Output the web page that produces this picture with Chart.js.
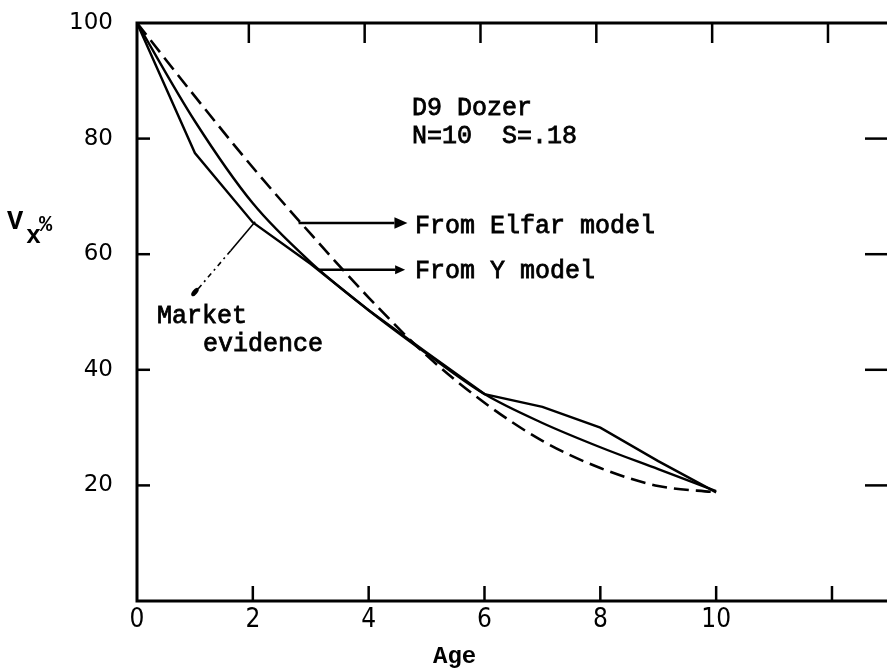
<!DOCTYPE html>
<html>
<head>
<meta charset="utf-8">
<script src="https://cdn.jsdelivr.net/npm/chart.js@4/dist/chart.umd.min.js"></script>
<style>
  html, body { margin: 0; padding: 0; background: #fff; overflow: hidden; }
  #c { display: block; }
</style>
</head>
<body>
<canvas id="c" width="887" height="671"></canvas>
<script>
// ---- data ----
const ages = [0, 1, 2, 3, 4, 5, 6, 7, 8, 9, 10];
const marketEvidence = [100, 77.5, 65.5, 58.3, 50.3, 43.0, 35.8, 33.6, 30.0, 24.2, 18.8];
const yModel        = [100, 83.0, 68.8, 58.6, 50.3, 42.8, 35.8, 30.8, 26.6, 22.8, 19.0];
const elfarModel    = [100, 87.3, 75.0, 63.5, 52.5, 42.5, 34.3, 27.7, 23.0, 19.9, 18.8];
const xTickValues = [0, 2, 4, 6, 8, 10, 12];
const xTickLabels = ['0', '2', '4', '6', '8', '10', ''];
const yTickValues = [20, 40, 60, 80, 100];
const yTickLabels = ['20', '40', '60', '80', '100'];
const seriesNames = ['Market evidence', 'From Y model', 'From Elfar model'];

const toPts = arr => ages.map((a, i) => ({ x: a, y: arr[i] }));

const MONO = "'Liberation Mono', 'DejaVu Sans Mono', monospace";

const decor = {
  id: 'decor',
  afterDraw(chart) {
    const { ctx, chartArea: a, scales: { x, y } } = chart;
    ctx.save();
    ctx.strokeStyle = '#000';
    ctx.fillStyle = '#000';
    const line = (x1, y1, x2, y2) => { ctx.beginPath(); ctx.moveTo(x1, y1); ctx.lineTo(x2, y2); ctx.stroke(); };

    // frame
    ctx.lineWidth = 3;
    ctx.beginPath();
    ctx.moveTo(a.left, a.bottom); ctx.lineTo(a.left, a.top); ctx.lineTo(a.right, a.top);
    ctx.moveTo(a.left - 1.5, a.bottom); ctx.lineTo(a.right, a.bottom);
    ctx.stroke();

    // inward ticks
    ctx.lineWidth = 2.5;
    xTickValues.forEach(v => {
      if (v === 0) return;
      const px = x.getPixelForValue(v);
      line(px, a.bottom, px, a.bottom - 15);
      line(px - 4, a.top, px - 4, a.top + 20);
    });
    yTickValues.forEach(v => {
      if (v === 100) return;
      const py = y.getPixelForValue(v);
      line(a.left, py, a.left + 13, py);
      line(a.right - 22, py, a.right, py);
    });

    // annotation text (typewriter look: fill + light stroke)
    ctx.font = `25px ${MONO}`;
    ctx.textBaseline = 'alphabetic';
    ctx.textAlign = 'left';
    ctx.lineWidth = 0.8;
    const tw = (t, px, py) => { ctx.fillText(t, px, py); ctx.strokeText(t, px, py); };
    tw('D9 Dozer', 412, 115);
    tw('N=10  S=.18', 412, 143);
    tw(seriesNames[2], 415, 233);
    tw(seriesNames[1], 415, 278);
    tw('Market', 157, 323);
    tw('evidence', 203, 351);

    // arrows from curves to labels
    const arrow = (xv, yv, xEnd, head) => {
      const sx = x.getPixelForValue(xv), sy = y.getPixelForValue(yv);
      const ex = x.getPixelForValue(xEnd);
      ctx.lineWidth = 2.5;
      line(sx, sy, ex - head, sy);
      ctx.beginPath();
      ctx.moveTo(ex, sy); ctx.lineTo(ex - head, sy - head * 0.45); ctx.lineTo(ex - head, sy + head * 0.45);
      ctx.closePath(); ctx.fill();
    };
    arrow(2.79, 65.4, 4.67, 13);
    arrow(3.13, 57.3, 4.63, 10);

    // market evidence pointer (solid then dash-dot)
    const mx = x.getPixelForValue(2.04), my = y.getPixelForValue(65.6);
    const tx = 194, ty = 294;
    ctx.lineWidth = 1.6;
    line(mx, my, mx + (tx - mx) * 0.4, my + (ty - my) * 0.4);
    ctx.setLineDash([5, 4, 2, 4]);
    line(mx + (tx - mx) * 0.4, my + (ty - my) * 0.4, tx + 4, ty - 5);
    ctx.setLineDash([]);
    ctx.beginPath();
    ctx.ellipse(tx + 1, ty - 2, 5, 2.5, -Math.PI / 3.5, 0, Math.PI * 2);
    ctx.fill();

    // axis titles
    ctx.font = `bold 27px ${MONO}`;
    ctx.fillText('V', 7, 229);
    ctx.font = `bold 25px ${MONO}`;
    ctx.fillText('x', 26, 243);
    ctx.font = `bold 22px ${MONO}`;
    ctx.fillText('%', 39, 231);
    ctx.font = `bold 24px ${MONO}`;
    ctx.fillText('Age', 433, 663);
    ctx.restore();
  }
};

new Chart(document.getElementById('c'), {
  type: 'line',
  data: {
    datasets: [
      { label: seriesNames[0], data: toPts(marketEvidence), borderColor: '#000', borderWidth: 2.4, tension: 0, pointRadius: 0, fill: false },
      { label: seriesNames[1], data: toPts(yModel), borderColor: '#000', borderWidth: 2.4, cubicInterpolationMode: 'monotone', pointRadius: 0, fill: false },
      { label: seriesNames[2], data: toPts(elfarModel), borderColor: '#000', borderWidth: 2.6, borderDash: [15, 7], cubicInterpolationMode: 'monotone', pointRadius: 0, fill: false }
    ]
  },
  options: {
    responsive: false,
    devicePixelRatio: 1,
    animation: false,
    layout: { autoPadding: false, padding: { top: 23, right: 0, bottom: 0, left: 0 } },
    plugins: { legend: { display: false }, tooltip: { enabled: false } },
    scales: {
      x: {
        type: 'linear', min: 0, max: 12.95,
        afterBuildTicks: s => { s.ticks = xTickValues.map(v => ({ value: v })); },
        afterFit: s => { s.height = 70; s.paddingLeft = 0; s.paddingRight = 0; },
        grid: { display: false, drawTicks: false },
        border: { display: false },
        ticks: {
          autoSkip: false, maxRotation: 0, padding: 4, color: '#000',
          font: { family: "'Liberation Sans Narrow', 'DejaVu Sans Condensed', sans-serif", size: 26 },
          callback: (v, i) => xTickLabels[i]
        }
      },
      y: {
        type: 'linear', min: 0, max: 100,
        afterBuildTicks: s => { s.ticks = yTickValues.map(v => ({ value: v })); },
        afterFit: s => { s.width = 137; s.paddingTop = 0; s.paddingBottom = 0; },
        grid: { display: false, drawTicks: false },
        border: { display: false },
        ticks: {
          padding: 24, color: '#000',
          font: { family: "'DejaVu Sans', sans-serif", size: 23 },
          callback: (v, i) => yTickLabels[i]
        }
      }
    }
  },
  plugins: [decor]
});
</script>
</body>
</html>
